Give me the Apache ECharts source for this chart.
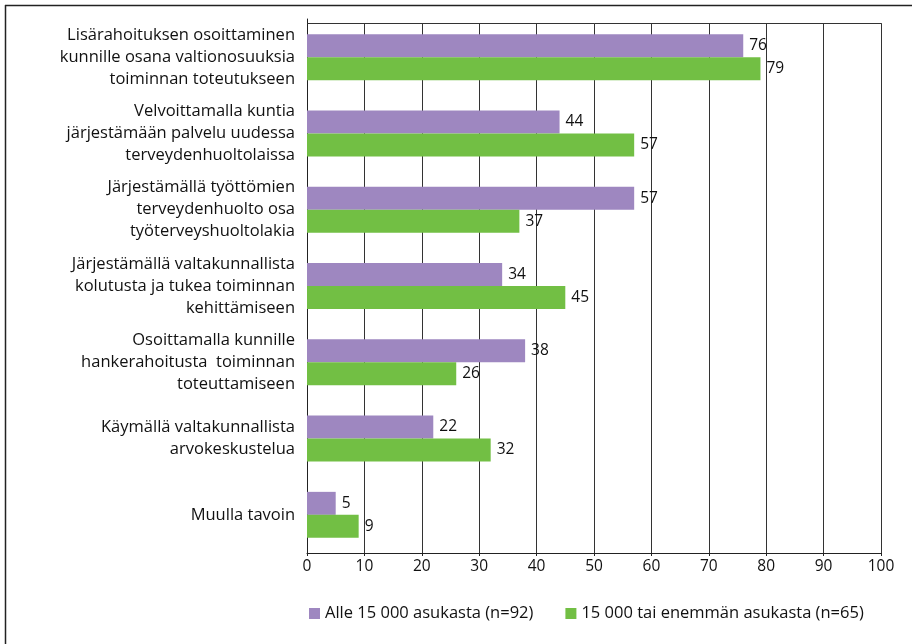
<!DOCTYPE html>
<html>
<head>
<meta charset="utf-8">
<script src="https://cdn.jsdelivr.net/npm/echarts@6/dist/echarts.min.js"></script>
<style>
  html, body { margin: 0; padding: 0; background: #fff; }
  #chart { width: 912px; height: 644px; }
</style>
</head>
<body>
<div id="chart"></div>
<script>
// Keinot, joilla toimintaa voitaisiin tukea (% vastaajista)
const categories = [
  'Lisärahoituksen osoittaminen\nkunnille osana valtionosuuksia\ntoiminnan toteutukseen',
  'Velvoittamalla kuntia\njärjestämään palvelu uudessa\nterveydenhuoltolaissa',
  'Järjestämällä työttömien\nterveydenhuolto osa\ntyöterveyshuoltolakia',
  'Järjestämällä valtakunnallista\nkolutusta ja tukea toiminnan\nkehittämiseen',
  'Osoittamalla kunnille\nhankerahoitusta  toiminnan\ntoteuttamiseen',
  'Käymällä valtakunnallista\narvokeskustelua',
  'Muulla tavoin'
];
const smallMunicipalities = [76, 44, 57, 34, 38, 22, 5];
const largeMunicipalities = [79, 57, 37, 45, 26, 32, 9];
const seriesNames = ['Alle 15 000 asukasta (n=92)', '15 000 tai enemmän asukasta (n=65)'];
const xTicks = { min: 0, max: 100, interval: 10 };

const FONT = '"Open Sans", "Noto Sans", sans-serif';
const chart = echarts.init(document.getElementById('chart'), null, { renderer: 'canvas' });

const valueLabel = {
  show: true,
  position: 'right',
  distance: 6,
  color: '#111',
  fontSize: 15.5,
  fontFamily: FONT
};

chart.setOption({
  animation: false,
  textStyle: { fontFamily: FONT },
  grid: { left: 307, right: 31, top: 19, bottom: 91, containLabel: false },
  legend: {
    left: 304,
    top: 600,
    itemWidth: 11,
    itemHeight: 11,
    itemGap: 32,
    icon: 'rect',
    textStyle: { fontSize: 16.5, color: '#111', fontFamily: FONT, padding: [0, 0, 0, 0] },
    data: seriesNames
  },
  xAxis: {
    type: 'value',
    min: xTicks.min,
    max: xTicks.max,
    interval: xTicks.interval,
    axisLine: { show: true, lineStyle: { color: '#222', width: 1 } },
    axisTick: { show: true, length: 3, lineStyle: { color: '#222' } },
    axisLabel: { color: '#111', fontSize: 15.5, margin: 6, fontFamily: FONT },
    splitLine: { show: true, lineStyle: { color: '#333', width: 1 } }
  },
  yAxis: {
    type: 'category',
    inverse: true,
    data: categories,
    axisLine: { show: true, lineStyle: { color: '#222', width: 1 } },
    axisTick: { show: false },
    axisLabel: {
      color: '#111',
      fontSize: 16.5,
      lineHeight: 22,
      align: 'right',
      margin: 12,
      fontFamily: FONT
    }
  },
  series: [
    {
      name: seriesNames[0],
      type: 'bar',
      data: smallMunicipalities,
      barWidth: 23,
      barGap: '0%',
      itemStyle: { color: '#9e87c0' },
      label: valueLabel
    },
    {
      name: seriesNames[1],
      type: 'bar',
      data: largeMunicipalities,
      barWidth: 23,
      barGap: '0%',
      itemStyle: { color: '#72bf44' },
      label: valueLabel
    }
  ],
  graphic: [
    // plot frame: clear the band above the top edge and draw the top/right border
    { type: 'rect', z: 10, shape: { x: 308, y: 17, width: 575, height: 6.5 }, style: { fill: '#fff' } },
    { type: 'line', z: 11, shape: { x1: 307, y1: 23.5, x2: 881.5, y2: 23.5 }, style: { stroke: '#333', lineWidth: 1 } },
    { type: 'line', z: 11, shape: { x1: 881.5, y1: 23.5, x2: 881.5, y2: 553 }, style: { stroke: '#333', lineWidth: 1 } },
    // outer frame: top and left edges
    { type: 'line', z: 11, shape: { x1: 5, y1: 5.5, x2: 912, y2: 5.5 }, style: { stroke: '#222', lineWidth: 1.5 } },
    { type: 'line', z: 11, shape: { x1: 5.5, y1: 5, x2: 5.5, y2: 644 }, style: { stroke: '#222', lineWidth: 1.5 } }
  ]
});
</script>
</body>
</html>
